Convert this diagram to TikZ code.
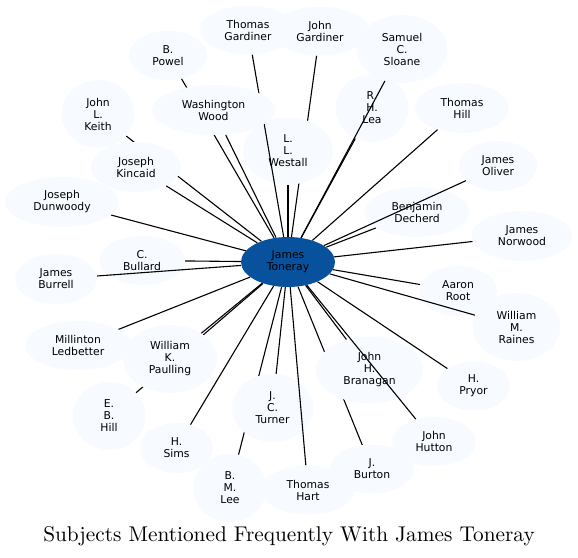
\documentclass[tikz,border=0pt]{standalone}
\usepackage{fontspec}
\setsansfont{DejaVu Sans}
\usetikzlibrary{shapes.geometric}
\definecolor{bluelight}{HTML}{F7FBFF}
\definecolor{bluedark}{HTML}{08519C}
\pgfdeclarelayer{edgesA}
\pgfdeclarelayer{nodesA}
\pgfdeclarelayer{edgesB}
\pgfsetlayers{edgesA,nodesA,edgesB,main}
\tikzset{
    person/.style={ellipse, fill=bluelight, inner sep=0pt, align=center,
        font=\sffamily\fontsize{10.8}{12}\selectfont},
    hub/.style={person, fill=bluedark},
    link/.style={line width=1.1pt, black}
}
\begin{document}
\begin{tikzpicture}[x=1pt, y=-1pt]
    \useasboundingbox (0,0) rectangle (578,557);
    % nodes that some connectors pass over
    \begin{pgfonlayer}{nodesA}
    \node[person, minimum width=90, minimum height=67] (westall) at (288,151) {L.\\L.\\Westall};
    \node[person, minimum width=73, minimum height=68] (lea) at (372,108) {R.\\H.\\Lea};
    \node[person, minimum width=107, minimum height=67] (branagan) at (369.5,370) {John\\H.\\Branagan};
    \node[person, minimum width=81, minimum height=68] (turner) at (272.5,408) {J.\\C.\\Turner};
    \node[person, minimum width=86, minimum height=49] (bullard) at (142,260.5) {C.\\Bullard};
    \node[person, minimum width=105, minimum height=50] (decherd) at (417,212) {Benjamin\\Decherd};
    \node[person, minimum width=78, minimum height=50] (root) at (458,291) {Aaron\\Root};
    \end{pgfonlayer}
    % the other nodes
    \node[hub, minimum width=94, minimum height=50] (toneray) at (288,262) {James\\Toneray};
    \node[person, minimum width=96, minimum height=49] (tgardiner) at (248,30) {Thomas\\Gardiner};
    \node[person, minimum width=98, minimum height=49] (jgardiner) at (320,31) {John\\Gardiner};
    \node[person, minimum width=91, minimum height=68] (sloane) at (402,49) {Samuel\\C.\\Sloane};
    \node[person, minimum width=78, minimum height=49] (powel) at (168,55.5) {B.\\Powel};
    \node[person, minimum width=123, minimum height=50] (wwood) at (213.5,110) {Washington\\Wood};
    \node[person, minimum width=73, minimum height=68] (keith) at (98,114) {John\\L.\\Keith};
    \node[person, minimum width=94, minimum height=50] (thill) at (462,108) {Thomas\\Hill};
    \node[person, minimum width=90, minimum height=50] (kincaid) at (136,167) {Joseph\\Kincaid};
    \node[person, minimum width=78, minimum height=50] (oliver) at (498,166) {James\\Oliver};
    \node[person, minimum width=114, minimum height=50] (dunwoody) at (62,202) {Joseph\\Dunwoody};
    \node[person, minimum width=101, minimum height=50] (norwood) at (522,236) {James\\Norwood};
    \node[person, minimum width=82, minimum height=50] (burrell) at (56,279) {James\\Burrell};
    \node[person, minimum width=106, minimum height=49] (ledbetter) at (78,345.5) {Millinton\\Ledbetter};
    \node[person, minimum width=94, minimum height=68] (paulling) at (170,359) {William\\K.\\Paulling};
    \node[person, minimum width=88, minimum height=68] (raines) at (516.5,327) {William\\M.\\Raines};
    \node[person, minimum width=73, minimum height=49] (pryor) at (473.5,386) {H.\\Pryor};
    \node[person, minimum width=73, minimum height=68] (ebhill) at (109,416) {E.\\B.\\Hill};
    \node[person, minimum width=73, minimum height=50] (sims) at (176.5,448) {H.\\Sims};
    \node[person, minimum width=84, minimum height=49] (hutton) at (434,441.5) {John\\Hutton};
    \node[person, minimum width=73, minimum height=68] (bmlee) at (230,488) {B.\\M.\\Lee};
    \node[person, minimum width=94, minimum height=49] (hart) at (308,490) {Thomas\\Hart};
    \node[person, minimum width=84, minimum height=49] (burton) at (372,469) {J.\\Burton};
    % connectors under the nodes
    \begin{pgfonlayer}{edgesA}
    \foreach \n in {jgardiner,powel,wwood,keith,thill,westall,kincaid,lea,
        dunwoody,decherd,norwood,bullard,root,ledbetter,paulling,
        branagan,pryor,ebhill,turner,sims,bmlee,burton}
        \draw[link] (toneray) -- (\n);
    \end{pgfonlayer}
    % connectors over the first nodes
    \begin{pgfonlayer}{edgesB}
    \foreach \n in {tgardiner,sloane,oliver,burrell,raines,hutton,hart}
        \draw[link] (toneray) -- (\n);
    \end{pgfonlayer}
    \node[anchor=base] (title) at (289,541) {\scalebox{2.13}{Subjects Mentioned Frequently With James Toneray}};
\end{tikzpicture}
\end{document}
